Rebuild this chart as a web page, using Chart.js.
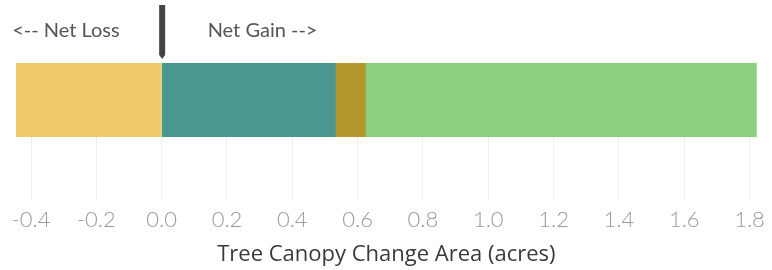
<!DOCTYPE html>
<html>
<head>
<meta charset="utf-8">
<script src="https://cdn.jsdelivr.net/npm/chart.js@4"></script>
<style>
  html, body { margin: 0; padding: 0; background: #ffffff; }
  #wrap { width: 772px; height: 270px; position: relative; }
</style>
</head>
<body>
<div id="wrap"><canvas id="c" width="772" height="270"></canvas></div>
<script>
// ---- data ----
const categories = ['Tree Canopy Change'];
const seriesNames = ['Net Loss', 'Gain A', 'Gain B', 'Gain C'];
const lossValues = [-0.446];
const gainAValues = [0.532];
const gainBValues = [0.092];
const gainCValues = [1.198];
const tickValues = [-0.4, -0.2, 0.0, 0.2, 0.4, 0.6, 0.8, 1.0, 1.2, 1.4, 1.6, 1.8];
const axisMin = -0.446;
const axisMax = 1.822;
const axisTitle = 'Tree Canopy Change Area (acres)';
const lossLabel = '<-- Net Loss';
const gainLabel = 'Net Gain -->';

const colors = ['#EECB68', '#4A9790', '#B4982E', '#8BD07E'];
const seriesValues = [lossValues, gainAValues, gainBValues, gainCValues];

const annotationPlugin = {
  id: 'netAnnotation',
  afterDraw(chart) {
    const ctx = chart.ctx;
    const x0 = chart.scales.x.getPixelForValue(0);
    ctx.save();
    ctx.fillStyle = '#444444';
    ctx.beginPath();
    ctx.moveTo(x0 - 2.5, 5);
    ctx.lineTo(x0 + 3.5, 5);
    ctx.lineTo(x0 + 3.5, 55);
    ctx.lineTo(x0 + 0.5, 59);
    ctx.lineTo(x0 - 2.5, 55);
    ctx.closePath();
    ctx.fill();
    ctx.font = '20px Lato';
    ctx.fillStyle = '#555555';
    ctx.textBaseline = 'middle';
    ctx.textAlign = 'right';
    ctx.fillText(lossLabel, x0 - 42, 31);
    ctx.textAlign = 'left';
    ctx.fillText(gainLabel, x0 + 46, 31);
    ctx.restore();
  }
};

new Chart(document.getElementById('c'), {
  type: 'bar',
  data: {
    labels: categories,
    datasets: seriesNames.map((name, i) => ({
      label: name,
      data: seriesValues[i],
      backgroundColor: colors[i],
      borderWidth: 0,
      categoryPercentage: 1,
      barPercentage: 1
    }))
  },
  options: {
    indexAxis: 'y',
    responsive: false,
    animation: false,
    layout: { padding: { left: 16, right: 14, top: 63, bottom: 0 } },
    plugins: { legend: { display: false }, tooltip: { enabled: false } },
    scales: {
      y: { display: false, stacked: true, offset: true },
      x: {
        stacked: true,
        min: axisMin,
        max: axisMax,
        border: { display: false },
        grid: { color: '#efefef', lineWidth: 1, tickLength: 63, drawTicks: true },
        afterBuildTicks(scale) { scale.ticks = tickValues.map(v => ({ value: v })); },
        afterFit(scale) { scale.height = 133; },
        ticks: {
          padding: 7,
          color: '#999999',
          font: { family: 'Lato', size: 22, weight: '300' },
          callback: (v) => Number(v).toFixed(1),
          maxRotation: 0,
          autoSkip: false
        },
        title: {
          display: true,
          text: axisTitle,
          color: '#3a3a3a',
          font: { family: 'Open Sans', size: 22 },
          padding: { top: 6, bottom: 2 }
        }
      }
    }
  },
  plugins: [annotationPlugin]
});
</script>
</body>
</html>
